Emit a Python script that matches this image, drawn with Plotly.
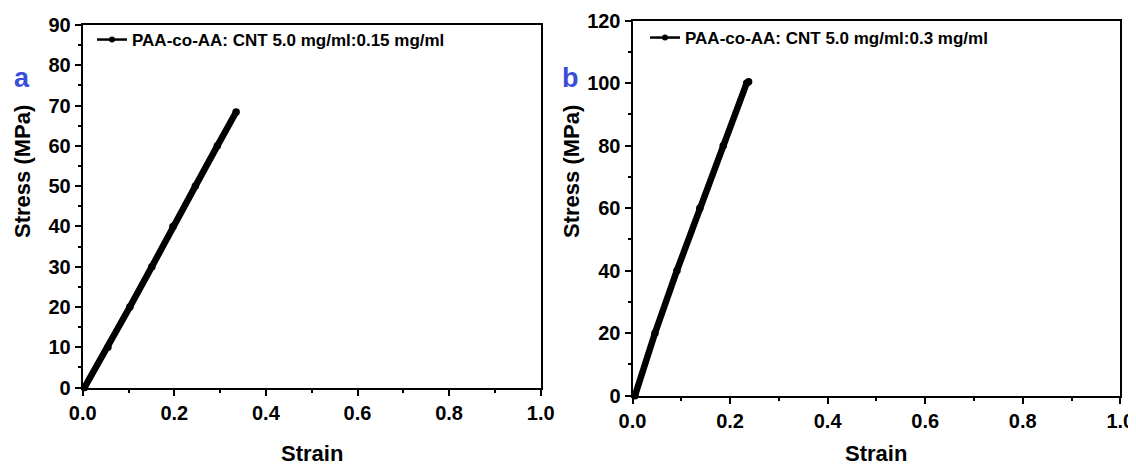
import plotly.graph_objects as go

# ---- data ----
strain_a = [0.004, 0.055, 0.103, 0.151, 0.197, 0.246, 0.294, 0.335]
stress_a = [0.0, 10.0, 20.0, 30.0, 40.0, 50.0, 60.0, 68.4]
label_a = "PAA-co-AA: CNT 5.0 mg/ml:0.15 mg/ml"

strain_b = [0.005, 0.046, 0.091, 0.138, 0.186, 0.234, 0.238]
stress_b = [0.0, 20.0, 40.0, 60.0, 80.0, 100.0, 100.5]
label_b = "PAA-co-AA: CNT 5.0 mg/ml:0.3 mg/ml"

x_ticks = [0.0, 0.2, 0.4, 0.6, 0.8, 1.0]
y_ticks_a = list(range(0, 91, 10))
y_ticks_b = list(range(0, 121, 20))

# the page body has an 8px default margin, so the figure is made 8px smaller
# and all reference pixel positions are shifted by that offset
OFF = 8
W, H = 1136 - OFF, 465 - OFF
FONT = "Arial, Liberation Sans, sans-serif"

fig = go.Figure()

def add_series(x, y, name, xa, ya, leg):
    # thick curve (dense measured points appear as a thick band)
    fig.add_trace(go.Scatter(x=x, y=y, mode="lines+markers", xaxis=xa, yaxis=ya,
                             line=dict(color="black", width=6.5),
                             marker=dict(color="black", size=7.5),
                             showlegend=False, cliponaxis=False))
    # legend entry
    fig.add_trace(go.Scatter(x=x, y=y, mode="lines+markers", xaxis=xa, yaxis=ya,
                             name=name, legend=leg,
                             line=dict(color="black", width=2.5),
                             marker=dict(color="black", size=6),
                             showlegend=True, cliponaxis=False))

add_series(strain_a, stress_a, label_a, "x", "y", "legend")
add_series(strain_b, stress_b, label_b, "x2", "y2", "legend2")

def px(v):
    return (v - OFF) / W

def py(v):
    return 1 - (v - OFF) / H

axis_common = dict(
    showline=True, linecolor="black", linewidth=2, mirror=True,
    ticks="outside", ticklen=6, tickwidth=2, tickcolor="black",
    showgrid=False, zeroline=False, automargin=False,
    tickfont=dict(family=FONT, size=20, color="black", weight="bold"),
)

fig.update_layout(
    width=W, height=H, autosize=False,
    margin=dict(l=0, r=0, t=0, b=0, autoexpand=False),
    paper_bgcolor="white", plot_bgcolor="white",
    font=dict(family=FONT, color="black"),
    xaxis=dict(domain=[px(82.7), px(540.7)], anchor="y", range=[0, 1.0],
               tickvals=x_ticks, tickformat=".1f",
               minor=dict(dtick=0.1, ticks="outside", ticklen=3, tickwidth=2, tickcolor="black"),
               **axis_common),
    yaxis=dict(domain=[py(387.5), py(25)], anchor="x", range=[0, 90],
               tickvals=y_ticks_a,
               minor=dict(dtick=5, ticks="outside", ticklen=3, tickwidth=2, tickcolor="black"),
               **axis_common),
    xaxis2=dict(domain=[px(632.5), px(1120.3)], anchor="y2", range=[0, 1.0],
                tickvals=x_ticks, tickformat=".1f",
                minor=dict(dtick=0.1, ticks="outside", ticklen=3, tickwidth=2, tickcolor="black"),
                **axis_common),
    yaxis2=dict(domain=[py(395.7), py(20.7)], anchor="x2", range=[0, 120],
                tickvals=y_ticks_b,
                minor=dict(dtick=10, ticks="outside", ticklen=3, tickwidth=2, tickcolor="black"),
                **axis_common),
    legend=dict(x=px(92), y=py(40), xanchor="left", yanchor="middle",
                bgcolor="rgba(0,0,0,0)", borderwidth=0,
                font=dict(family=FONT, size=17, color="black", weight="bold")),
    legend2=dict(x=px(645), y=py(38), xanchor="left", yanchor="middle",
                 bgcolor="rgba(0,0,0,0)", borderwidth=0,
                 font=dict(family=FONT, size=17, color="black", weight="bold")),
)

title_font = dict(family=FONT, size=22, color="black", weight="bold")
panel_font = dict(family=FONT, size=27, color="#3b4fd6", weight="bold")

annotations = [
    dict(text="Stress (MPa)", x=px(22), y=py(172), textangle=-90, font=title_font),
    dict(text="Strain", x=px(311.7), y=py(453), font=title_font),
    dict(text="Stress (MPa)", x=px(571), y=py(172), textangle=-90, font=title_font),
    dict(text="Strain", x=px(876.4), y=py(453), font=title_font),
    dict(text="a", x=px(22), y=py(78), font=panel_font),
    dict(text="b", x=px(570), y=py(78), font=panel_font),
]
for a in annotations:
    a.update(xref="paper", yref="paper", showarrow=False, xanchor="center", yanchor="middle")
fig.update_layout(annotations=annotations)

fig.write_html("out.html")
